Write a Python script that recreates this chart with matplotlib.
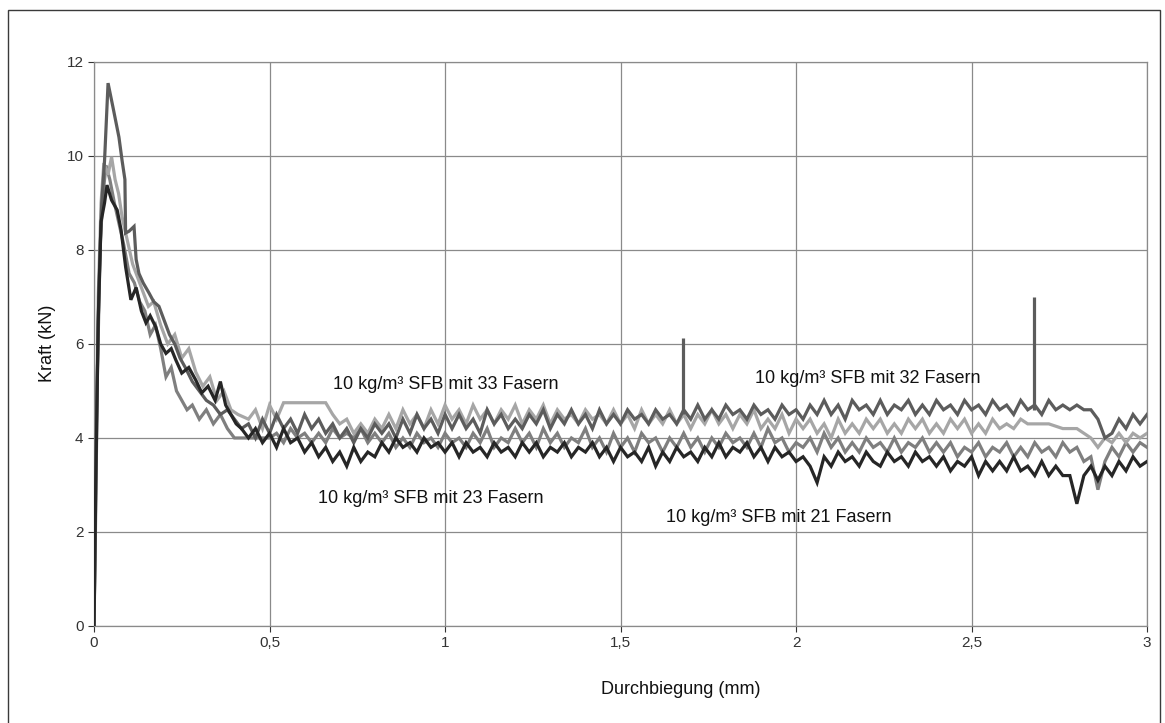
import numpy as np
import matplotlib
matplotlib.use("Agg")
import matplotlib.pyplot as plt
from matplotlib.patches import Rectangle

plt.rcParams['font.family'] = ['Liberation Sans', 'DejaVu Sans']

head_x_21 = [0, 0.005, 0.012, 0.02, 0.03, 0.037, 0.05, 0.066, 0.077, 0.09, 0.105, 0.12, 0.135, 0.148, 0.16,
             0.176, 0.19, 0.205, 0.22, 0.233, 0.25, 0.27, 0.29, 0.307, 0.325, 0.345, 0.36, 0.375, 0.39, 0.405, 0.42]
head_y_21 = [0, 3.0, 6.5, 8.6, 9.0, 9.38, 9.06, 8.85, 8.43, 7.64, 6.94, 7.2, 6.7, 6.45, 6.6,
             6.36, 6.0, 5.8, 5.9, 5.66, 5.38, 5.5, 5.23, 4.96, 5.1, 4.8, 5.2, 4.7, 4.5, 4.3, 4.2]

head_x_32 = [0, 0.006, 0.014, 0.022, 0.03, 0.04, 0.055, 0.071, 0.08, 0.088, 0.09, 0.1, 0.114, 0.12, 0.128, 0.14,
             0.157, 0.17, 0.185, 0.2, 0.215, 0.23, 0.245, 0.26, 0.28, 0.3, 0.32, 0.34, 0.36, 0.38, 0.4, 0.42]
head_y_32 = [0, 4.0, 7.2, 9.0, 9.9, 11.55, 11.0, 10.4, 9.9, 9.5, 8.36, 8.4, 8.5, 7.8, 7.5, 7.3,
             7.08, 6.9, 6.8, 6.5, 6.2, 6.0, 5.7, 5.5, 5.2, 5.0, 4.8, 4.7, 4.5, 4.6, 4.4, 4.2]

head_x_33 = [0, 0.006, 0.012, 0.02, 0.028, 0.04, 0.05, 0.06, 0.07, 0.08, 0.095, 0.11, 0.125, 0.14, 0.155, 0.17,
             0.19, 0.21, 0.23, 0.25, 0.27, 0.29, 0.31, 0.33, 0.35, 0.37, 0.39, 0.41]
head_y_33 = [0, 3.5, 7.0, 9.0, 9.85, 9.6, 9.98, 9.5, 9.2, 8.7, 8.2, 7.7, 7.4, 7.1, 6.8, 6.9,
             6.4, 6.0, 6.2, 5.7, 5.9, 5.4, 5.1, 5.3, 4.8, 5.0, 4.6, 4.5]

head_x_23 = [0, 0.004, 0.01, 0.018, 0.026, 0.034, 0.045, 0.058, 0.07, 0.085, 0.1, 0.115, 0.13, 0.145, 0.16,
             0.175, 0.19, 0.205, 0.22, 0.235, 0.25, 0.265, 0.28, 0.3, 0.32, 0.34, 0.36, 0.38, 0.4, 0.42]
head_y_23 = [0, 2.0, 5.5, 8.2, 9.2, 9.8, 9.5, 9.0, 8.6, 8.1, 7.5, 7.3, 6.9, 6.7, 6.2,
             6.4, 5.9, 5.3, 5.5, 5.0, 4.8, 4.6, 4.7, 4.4, 4.6, 4.3, 4.5, 4.2, 4.0, 4.0]

# plateau, sampled every 0.02 mm from 0.44 to 3.00
plateau_x = np.round(np.arange(0.44, 3.001, 0.02), 2)

plat_21 = [4.0, 4.2, 3.9, 4.1, 3.8, 4.2, 3.9, 4.0, 3.7, 3.9,
           3.6, 3.8, 3.5, 3.7, 3.4, 3.8, 3.5, 3.7, 3.6, 3.9,
           3.7, 4.0, 3.8, 3.9, 3.7, 4.0, 3.8, 3.9, 3.7, 3.9,
           3.6, 3.9, 3.7, 3.8, 3.6, 3.9, 3.7, 3.8, 3.6, 3.9,
           3.7, 3.9, 3.6, 3.8, 3.7, 3.9, 3.6, 3.8, 3.7, 3.9,
           3.6, 3.8, 3.5, 3.8, 3.6, 3.7, 3.5, 3.8, 3.4, 3.7,
           3.5, 3.8, 3.6, 3.7, 3.5, 3.8, 3.6, 3.9, 3.6, 3.8,
           3.7, 3.9, 3.6, 3.8, 3.5, 3.8, 3.6, 3.7, 3.5, 3.6,
           3.4, 3.05, 3.6, 3.4, 3.7, 3.5, 3.6, 3.4, 3.7, 3.5,
           3.4, 3.7, 3.5, 3.6, 3.4, 3.7, 3.5, 3.6, 3.4, 3.6,
           3.3, 3.5, 3.4, 3.6, 3.2, 3.5, 3.3, 3.5, 3.3, 3.6,
           3.3, 3.4, 3.2, 3.5, 3.2, 3.4, 3.2, 3.2, 2.6, 3.2,
           3.4, 3.1, 3.4, 3.2, 3.5, 3.3, 3.6, 3.4, 3.5]

plat_32 = [4.3, 4.0, 4.4, 4.1, 4.5, 4.2, 4.4, 4.1, 4.5, 4.2,
           4.4, 4.1, 4.3, 4.0, 4.2, 3.9, 4.2, 4.0, 4.3, 4.1,
           4.3, 4.0, 4.4, 4.1, 4.5, 4.2, 4.4, 4.1, 4.5, 4.2,
           4.5, 4.2, 4.4, 4.1, 4.6, 4.3, 4.5, 4.2, 4.4, 4.2,
           4.5, 4.3, 4.6, 4.2, 4.5, 4.3, 4.6, 4.3, 4.5, 4.2,
           4.6, 4.3, 4.5, 4.3, 4.6, 4.4, 4.5, 4.3, 4.6, 4.4,
           4.5, 4.3, 4.6, 4.4, 4.7, 4.4, 4.6, 4.4, 4.7, 4.5,
           4.6, 4.4, 4.7, 4.5, 4.6, 4.4, 4.7, 4.5, 4.6, 4.4,
           4.7, 4.5, 4.8, 4.5, 4.7, 4.4, 4.8, 4.6, 4.7, 4.5,
           4.8, 4.5, 4.7, 4.6, 4.8, 4.5, 4.7, 4.5, 4.8, 4.6,
           4.7, 4.5, 4.8, 4.6, 4.7, 4.5, 4.8, 4.6, 4.7, 4.5,
           4.8, 4.6, 4.7, 4.5, 4.8, 4.6, 4.7, 4.6, 4.7, 4.6,
           4.6, 4.4, 4.0, 4.1, 4.4, 4.2, 4.5, 4.3, 4.5]

plat_33 = [4.4, 4.6, 4.2, 4.7, 4.4, 4.75, 4.75, 4.75, 4.75, 4.75,
           4.75, 4.75, 4.5, 4.3, 4.4, 4.1, 4.3, 4.1, 4.4, 4.2,
           4.5, 4.2, 4.6, 4.3, 4.5, 4.2, 4.6, 4.3, 4.7, 4.4,
           4.6, 4.3, 4.7, 4.4, 4.6, 4.3, 4.6, 4.4, 4.7, 4.3,
           4.6, 4.4, 4.7, 4.3, 4.6, 4.4, 4.5, 4.3, 4.6, 4.4,
           4.5, 4.3, 4.6, 4.3, 4.5, 4.2, 4.6, 4.3, 4.5, 4.3,
           4.6, 4.3, 4.5, 4.2, 4.5, 4.3, 4.6, 4.3, 4.5, 4.2,
           4.5, 4.3, 4.6, 4.2, 4.4, 4.2, 4.5, 4.1, 4.4, 4.2,
           4.4, 4.1, 4.3, 4.0, 4.4, 4.1, 4.3, 4.1, 4.4, 4.2,
           4.4, 4.1, 4.3, 4.1, 4.4, 4.2, 4.4, 4.1, 4.3, 4.1,
           4.4, 4.2, 4.4, 4.1, 4.3, 4.1, 4.4, 4.2, 4.3, 4.2,
           4.4, 4.3, 4.3, 4.3, 4.3, 4.25, 4.2, 4.2, 4.2, 4.1,
           4.0, 3.8, 4.0, 3.9, 4.1, 3.9, 4.1, 4.0, 4.1]

plat_23 = [4.0, 4.0, 4.0, 4.0, 4.1, 3.9, 4.2, 4.0, 4.1, 3.9,
           4.1, 3.9, 4.2, 4.0, 4.1, 4.0, 4.2, 3.9, 4.1, 3.9,
           4.1, 3.8, 4.0, 3.8, 4.1, 3.9, 4.0, 3.8, 4.1, 3.9,
           4.0, 3.8, 4.1, 3.9, 4.2, 3.8, 4.0, 3.9, 4.2, 3.9,
           4.1, 3.8, 4.2, 3.9, 4.1, 3.8, 4.0, 3.9, 4.2, 3.8,
           4.0, 3.7, 4.1, 3.8, 4.0, 3.7, 4.1, 3.9, 4.0, 3.7,
           4.0, 3.8, 4.1, 3.8, 4.0, 3.7, 4.0, 3.8, 4.1, 3.9,
           4.0, 3.8, 4.1, 3.8, 4.2, 3.9, 4.0, 3.7, 3.9, 3.8,
           4.0, 3.7, 4.1, 3.8, 4.0, 3.7, 3.9, 3.7, 4.0, 3.8,
           3.9, 3.7, 4.0, 3.7, 3.9, 3.8, 4.0, 3.7, 3.9, 3.7,
           3.9, 3.6, 3.8, 3.7, 3.9, 3.6, 3.8, 3.7, 3.9, 3.6,
           3.8, 3.6, 3.9, 3.7, 3.8, 3.6, 3.9, 3.7, 3.8, 3.5,
           3.6, 2.9, 3.5, 3.8, 3.6, 3.9, 3.7, 3.9, 3.8]

# the two single-point spikes of the 32-fibre specimen
spike_x = [1.679, 2.678]
spike_base = [4.5, 4.6]
spike_top = [6.13, 7.0]

labels = ["10 kg/m³ SFB mit 33 Fasern", "10 kg/m³ SFB mit 32 Fasern",
          "10 kg/m³ SFB mit 23 Fasern", "10 kg/m³ SFB mit 21 Fasern"]
label_x = [0.681, 1.883, 0.638, 1.63]
label_y = [5.13, 5.26, 2.72, 2.30]

xticks = [0, 0.5, 1, 1.5, 2, 2.5, 3]
xticklabels = ["0", "0,5", "1", "1,5", "2", "2,5", "3"]
yticks = [0, 2, 4, 6, 8, 10, 12]

fig = plt.figure(figsize=(11.65, 7.23), dpi=100)
ax = fig.add_axes([0.0807, 0.1342, 0.9039, 0.7801])

# outer frame of the scanned page
fig.patches.append(Rectangle((8 / 1165, -0.05), 1152 / 1165, 1.05 - 10 / 723, transform=fig.transFigure,
                             fill=False, edgecolor="#3a3a3a", linewidth=1.0))

series = [
    (head_x_23, head_y_23, plat_23, "#7f7f7f"),
    (head_x_33, head_y_33, plat_33, "#a6a6a6"),
    (head_x_32, head_y_32, plat_32, "#5c5c5c"),
    (head_x_21, head_y_21, plat_21, "#262626"),
]
for hx, hy, py, col in series:
    xs = np.concatenate([hx, plateau_x])
    ys = np.concatenate([hy, py])
    ax.plot(xs, ys, color=col, linewidth=2.3, solid_joinstyle="miter", zorder=3)

ax.vlines(spike_x, spike_base, spike_top, color="#5c5c5c", linewidth=2.3, zorder=3)

for t, lx, ly in zip(labels, label_x, label_y):
    ax.text(lx, ly, t, fontsize=13, color="#111111", ha="left", va="center", zorder=4)

ax.set_xlim(0, 3)
ax.set_ylim(0, 12)
ax.set_xticks(xticks)
ax.set_xticklabels(xticklabels)
ax.set_yticks(yticks)
ax.tick_params(labelsize=11, colors="#333333", length=4, width=0.8)
ax.grid(True, color="#8a8a8a", linewidth=0.9)
ax.set_axisbelow(True)
for s in ax.spines.values():
    s.set_color("#8a8a8a")
    s.set_linewidth(0.9)

fig.text(681 / 1165, 1 - 690 / 723, "Durchbiegung (mm)", fontsize=13, color="#111111", ha="center", va="center")
fig.text(47 / 1165, 1 - 343 / 723, "Kraft (kN)", fontsize=13, color="#111111", rotation=90,
         ha="center", va="center")

fig.savefig("out.png", dpi=100)
